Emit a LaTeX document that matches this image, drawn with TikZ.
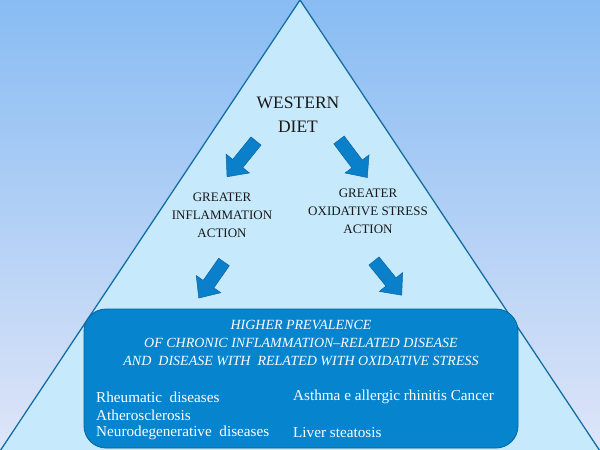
\documentclass[tikz,border=0pt]{standalone}
\usepackage{fontspec}
\setmainfont{Liberation Serif}
\definecolor{bgtop}{RGB}{136,188,243}
\definecolor{bgbot}{RGB}{222,229,248}
\definecolor{trifill}{RGB}{198,233,252}
\definecolor{triedge}{RGB}{22,110,165}
\definecolor{boxfill}{RGB}{6,132,206}
\definecolor{boxedge}{RGB}{8,100,155}
\definecolor{arrfill}{RGB}{10,128,202}
\definecolor{arredge}{RGB}{10,100,165}
\definecolor{txt}{RGB}{25,25,25}
\tikzset{
  arrowbody/.style={fill=arrfill, draw=arredge, line width=0.5pt, line join=miter},
  lbl/.style={text=txt, align=center, font=\fontsize{13}{18}\selectfont, inner sep=0pt},
  item/.style={text=white, anchor=west, font=\fontsize{15.2}{18}\selectfont, inner sep=0pt}
}
% block arrow: #1 = tail point, #2 = visual angle, #3 = length
\newcommand{\blockarr}[3]{%
  \begin{scope}[shift={#1}, rotate=#2]
    \draw[arrowbody] (0,-6.5) -- ({#3-17},-6.5) -- ({#3-17},-15) -- (#3,0)
      -- ({#3-17},15) -- ({#3-17},6.5) -- (0,6.5) -- cycle;
  \end{scope}}
\begin{document}
\begin{tikzpicture}[x=1pt,y=-1pt]
\useasboundingbox (0,0) rectangle (600,450);
\shade[top color=bgtop, bottom color=bgbot] (0,0) rectangle (600,450);
\draw[fill=trifill, draw=triedge, line width=1.3pt, line join=miter] (0,451) -- (300,0) -- (600,451) -- cycle;
% box
\draw[fill=boxfill, draw=boxedge, line width=0.8pt, rounded corners=22pt] (84,309) rectangle (518,448);
% texts
\node[lbl, font=\fontsize{17.5}{24}\selectfont] (wd) at (298,115) {WESTERN\\DIET};
\node[lbl] (inf) at (222,215) {GREATER\\INFLAMMATION\\ACTION};
\node[lbl] (ox) at (368,211) {GREATER\\OXIDATIVE STRESS\\ACTION};
\node[text=white, align=center, font=\fontsize{14}{18}\selectfont\itshape, inner sep=0pt] (hp) at (301,343)
  {HIGHER PREVALENCE\\OF CHRONIC INFLAMMATION--RELATED DISEASE\\AND\ \ DISEASE WITH\ \ RELATED WITH OXIDATIVE STRESS};
\node[item] (r1) at (96,397) {Rheumatic\ \ diseases};
\node[item] (r2) at (96,415) {Atherosclerosis};
\node[item] (r3) at (96,433) {Neurodegenerative\ \ diseases};
\node[item] (r4) at (293,397) {Asthma e allergic rhinitis Cancer};
\node[item] (r5) at (293,433) {Liver steatosis};
% arrows
\blockarr{(256,141)}{-129}{46}
\blockarr{(339,140)}{-53}{47}
\blockarr{(224,262)}{-125}{44}
\blockarr{(374,261)}{-51}{44}
\end{tikzpicture}
\end{document}
